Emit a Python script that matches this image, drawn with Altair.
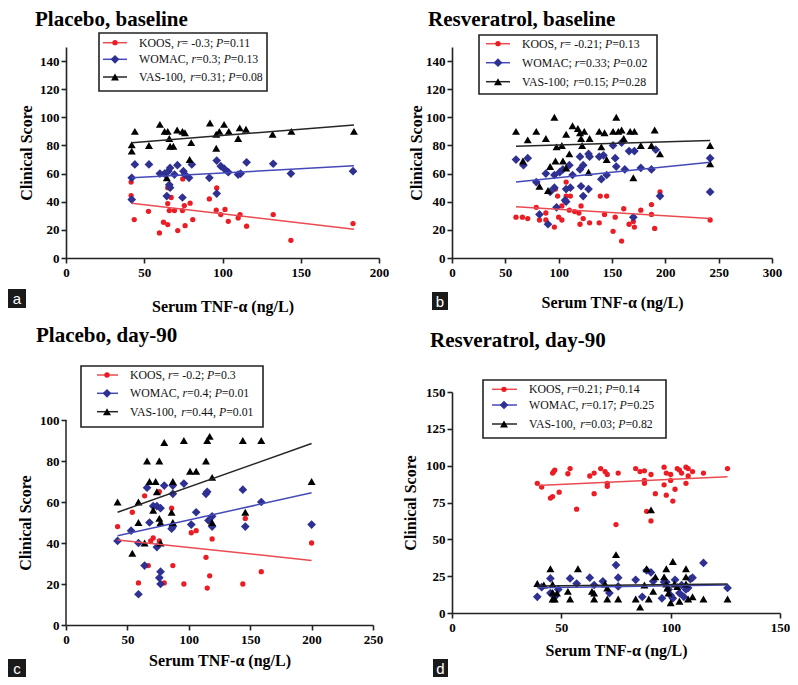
import altair as alt
import pandas as pd

SERIF = "Liberation Serif"
SANS = "Liberation Sans"
SERIES = ["KOOS", "WOMAC", "VAS-100"]
POINT_COLORS = ["#ec1c24", "#2e3192", "#000000"]
LINE_COLORS = ["#ea4b50", "#4449b8", "#262626"]
SHAPES = ["circle", "diamond", "triangle-up"]
SIZES = [28, 76, 64]
X_TITLE = "Serum TNF-α (ng/L)"
Y_TITLE = "Clinical Score"

# ---------------- Panel a: Placebo, baseline ----------------
a_title = "Placebo, baseline"
a_letter = "a"
a_xticks = [0, 50, 100, 150, 200]
a_yticks = [0, 20, 40, 60, 80, 100, 120, 140]
a_legend = ["KOOS, r= -0.3; P=0.11", "WOMAC, r=0.3; P=0.13", "VAS-100, r=0.31; P=0.08"]
a_koos_x = [41.6, 41.6, 43.6, 52.7, 59.7, 62.3, 65, 65, 65, 67.2, 66, 69.3, 71.4, 74.4, 75.6, 74.6,
            76.1, 81, 79.3, 91.6, 96.3, 96, 98.9, 101.6, 103.7, 110, 111.2, 115.4, 132.4, 143.7, 183.4]
a_koos_y = [54, 44.4, 27.3, 33.2, 17.8, 25.4, 23.8, 38.7, 50, 43, 33.7, 33.7, 19.5, 33.7, 37.3, 56.2,
            23, 27.3, 39, 42, 49.8, 34, 30.9, 34.5, 26.1, 28.5, 30.9, 22.6, 30.9, 12.6, 24.5]
a_womac_x = [44, 53, 42, 42, 60, 63, 65.4, 66.5, 66, 66.5, 64.4, 69.3, 71.2, 75, 76, 74.4, 80.4, 78.6,
             91.6, 96.3, 96.3, 98.9, 101, 103.7, 110, 111.6, 115.4, 132.4, 143.7, 183.4]
a_womac_y = [66.5, 66.5, 57, 41.5, 60, 60, 61.7, 64, 52, 50, 44, 59.3, 66, 61.7, 59.3, 43, 66.5, 57,
             57, 69.3, 45.8, 65.3, 63.6, 61, 59.3, 60, 68, 67, 60, 61.7]
a_vas_x = [42, 42, 44, 53, 60, 63, 65, 66, 66.5, 68.6, 71, 74.4, 76, 79, 80, 64.4, 92, 96, 96, 98,
           101, 104, 110, 111, 115, 132, 144, 184]
a_vas_y = [76, 80.5, 90, 80, 95, 90, 90, 85, 79.5, 79.5, 91, 90, 89, 70, 82, 57, 96, 78, 88, 90,
           95, 90, 85, 92.5, 91.5, 88, 90, 90]
a_fit_x = [42, 184]
a_fit_koos = [39, 20.5]
a_fit_womac = [57, 65.5]
a_fit_vas = [82, 94.5]

# ---------------- Panel b: Resveratrol, baseline ----------------
b_title = "Resveratrol, baseline"
b_letter = "b"
b_xticks = [0, 50, 100, 150, 200, 250, 300]
b_yticks = [0, 20, 40, 60, 80, 100, 120, 140]
b_legend = ["KOOS, r= -0.21; P=0.13", "WOMAC; r=0.33; P=0.02", "VAS-100; r=0.15; P=0.28"]
b_koos_x = [60, 66, 71, 79, 82, 88, 88, 96, 97, 99, 100, 103, 103, 107, 107, 111, 110, 115, 119, 120,
            121, 123, 123, 129, 138, 139, 143, 145, 151, 153, 159, 161, 166, 170, 171, 177, 187, 187,
            190, 195, 242]
b_koos_y = [29, 29, 28, 36, 27, 32, 27, 22, 49, 44, 29, 37, 27, 54, 44, 44, 34, 33, 32, 24,
            37, 44, 28, 25, 25, 44, 31, 44, 19, 29, 12, 35, 24, 26, 22, 34, 38, 31,
            21, 47, 27]
b_womac_x = [60, 67, 71, 79, 82, 88, 90, 92, 96, 96, 98, 101, 104, 106, 107, 107, 110, 111, 113, 120,
             120, 121, 123, 123, 128, 129, 128, 138, 140, 142, 145, 151, 153, 154, 159, 162, 166, 171,
             170, 177, 187, 191, 195, 242, 242]
b_womac_y = [70, 66, 71, 54, 31, 60, 24, 47, 50, 59, 36, 61, 63, 41, 40, 49, 66, 50, 59, 72,
             63, 51, 66, 44, 74, 72, 49, 72, 56, 73, 59, 80, 71, 65, 82, 63, 76, 76,
             29, 64, 63, 77, 44, 71, 47]
b_vas_x = [60, 71, 79, 88, 96, 98, 103, 92, 97, 104, 107, 110, 113, 118, 120, 121, 122, 124, 129, 128,
           138, 140, 143, 145, 151, 154, 156, 159, 161, 167, 171, 170, 177, 187, 190, 195, 242, 242,
           82, 90, 107, 66.5]
b_vas_y = [90, 84, 90, 85, 100, 79, 80, 65, 69, 69, 88, 74, 94, 92, 89, 85, 80, 90, 85, 61,
           90, 79, 89, 70, 90, 100, 90, 91, 85, 90, 90, 57, 80, 80, 91, 74, 80, 67,
           51, 48, 64, 69]
b_fit_x = [60, 242]
b_fit_koos = [36.5, 28]
b_fit_womac = [54, 68]
b_fit_vas = [79.5, 83.5]

# ---------------- Panel c: Placebo, day-90 ----------------
c_title = "Placebo, day-90"
c_letter = "c"
c_xticks = [0, 50, 100, 150, 200, 250]
c_yticks = [0, 20, 40, 60, 80, 100]
c_legend = ["KOOS, r= -0.2; P=0.3", "WOMAC, r=0.4; P=0.01", "VAS-100, r=0.44, P=0.01"]
c_koos_x = [42, 54, 59, 64, 67, 69, 71, 76, 76, 80, 86, 87, 96, 102, 106, 114, 115, 117, 119, 144,
            146, 159, 200]
c_koos_y = [48, 55, 20.5, 63, 29, 41, 42.5, 41, 65, 20.5, 57, 29, 20, 45, 46, 33, 18, 24, 42, 20,
            52, 26, 40]
c_womac_x = [42, 53, 59, 59, 64, 66, 68, 71, 74, 74, 77, 77, 76, 77, 80, 86, 87, 87, 87, 96,
             102, 106, 114, 115, 116, 119, 119, 144, 146, 159, 200]
c_womac_y = [41, 46, 40, 15, 29, 67, 50, 58, 58, 38, 57, 26, 23, 20, 68, 47, 64, 68, 48, 69,
             49, 55, 64, 65, 51, 53, 48, 66, 48, 60, 49]
c_vas_x = [42, 54, 59, 59, 64, 66, 68, 71, 73, 74, 76, 76, 77, 77, 80, 86, 87, 87, 96, 101,
           106, 114, 115, 117, 119, 119, 144, 146, 159, 200]
c_vas_y = [60, 35, 60, 50, 40, 80, 70, 56, 70, 65, 80, 52, 50, 40, 89, 55, 70, 50, 90, 75,
           75, 80, 90, 92, 72, 50, 90, 55, 90, 70]
c_fit_x = [42, 200]
c_fit_koos = [41.5, 31.5]
c_fit_womac = [43.5, 64.5]
c_fit_vas = [55, 88.5]

# ---------------- Panel d: Resveratrol, day-90 ----------------
d_title = "Resveratrol, day-90"
d_letter = "d"
d_xticks = [0, 50, 100, 150]
d_yticks = [0, 25, 50, 75, 100, 125, 150]
d_legend = ["KOOS, r=0.21; P=0.14", "WOMAC, r=0.17; P=0.25", "VAS-100, r=0.03; P=0.82"]
d_koos_x = [39, 41, 45, 46, 46, 46.5, 47, 49, 53, 54, 57, 63, 65, 65, 68, 70, 71, 71, 71, 76,
            75, 84, 86, 88, 88, 88, 89, 91, 91, 93, 97, 97, 98, 98, 100, 100, 101, 102, 103, 104,
            105, 107, 107, 108, 108, 110, 115, 126]
d_koos_y = [88, 85.5, 78, 79, 95, 96, 97, 82, 94.5, 98, 70.5, 93, 95, 81, 98, 96, 88, 86, 94, 95,
            60, 98, 96, 96.5, 90, 88, 69, 94, 62.5, 81, 99, 87, 95, 80, 94, 90, 76, 84, 98, 97,
            95, 99, 88, 98, 93, 96, 95, 98]
d_womac_x = [39, 41, 45, 45, 47, 48.6, 54, 57, 63, 65, 69, 72, 75, 76, 76, 84, 87, 89, 91, 92,
             96, 97, 98, 99, 100, 101, 102, 104, 105, 106, 107, 108, 109, 110, 115, 126]
d_womac_y = [11, 17.5, 23.5, 13.5, 11, 16, 23.5, 20, 24, 19, 21.5, 13.5, 32.5, 24, 18, 22.5, 11, 29, 27.5, 21.5,
             10, 21, 21, 16, 12, 10, 22.5, 13.5, 19, 11, 16, 17, 23, 24, 34, 17]
d_vas_x = [39, 42, 45, 46, 46, 46, 47, 48, 53, 54, 57.6, 64, 65, 65, 70, 71, 71, 75, 76, 84,
           86, 88, 89, 91, 90, 92, 93, 97, 98, 98, 99, 100, 101, 101.7, 103, 104, 107, 107, 108, 110,
           115, 126, 107, 98.5]
d_vas_y = [20, 19, 30, 19.5, 14, 9.5, 9.5, 13.5, 14.7, 9.5, 30, 14.7, 9.5, 13.5, 19.7, 9.5, 17, 39.6, 9.5, 9.5,
           4, 19, 30, 70, 9.5, 14.7, 24.5, 24.5, 30, 19.7, 13.5, 7, 35, 19.7, 18, 8, 30, 24.5, 9.5, 11,
           9.5, 9.5, 19.7, 17]
d_fit_x = [39, 126]
d_fit_koos = [86.5, 92.5]
d_fit_womac = [17.2, 19.0]
d_fit_vas = [18.3, 19.6]

# ---------------- layout (pixels relative to each plot's top-left) ----------------
LAYOUT = {
    "a": dict(w=313, h=211, xdom=[0, 200], ydom=[0, 150], xtp=19, ytp=5,
              box=(33, -14, 201, 44), rows=(-4.3, 12.3, 30), sym=(37, 61, 49), tx=73,
              title=(-31, -21.4), letter=(-58, 242, -40, 261)),
    "b": dict(w=320, h=211, xdom=[0, 300], ydom=[0, 150], xtp=15, ytp=1,
              box=(27, -12, 205, 47), rows=(-3.3, 15.7, 34.7), sym=(34, 58, 46), tx=70,
              title=(-24, -21.4), letter=(-20, 245, -4, 263)),
    "c": dict(w=307, h=233, xdom=[0, 250], ydom=[0, 113.66], xtp=6, ytp=6,
              box=(15, -26, 197, 35), rows=(-17, 1.3, 19.7), sym=(31, 52, 41), tx=64,
              title=(-30, -50), letter=(-58, 267, -40, 285), axis_top=100, titleY=130.5),
    "d": dict(w=328, h=221, xdom=[0, 150], ydom=[0, 150], xtp=8, ytp=7,
              box=(31, -12, 214, 46), rows=(-2.7, 13, 32), sym=(40, 65, 52), tx=77,
              title=(-22, -45.3), letter=(-19, 267, -4, 285)),
}

ROMAN = {" ": 250, ",": 250, ";": 278, ".": 250, "-": 333, "=": 564, "K": 722, "O": 722, "S": 556,
         "W": 944, "M": 889, "A": 722, "C": 667, "V": 722, "r": 333, "P": 556}
ITALIC = {"r": 389, "P": 611}
LEG_SIZE = 11.8

DUMMY = pd.DataFrame({"k": [0]})


def text_w(s, italic):
    table = ITALIC if italic else ROMAN
    return sum(table.get(ch, 500) for ch in s) * LEG_SIZE / 1000.0


def segments(label):
    i_r = label.index("r=")
    i_p = label.index("P=")
    return [(label[:i_r], False), ("r", True), (label[i_r + 1:i_p], False),
            ("P", True), (label[i_p + 1:], False)]


def panel(key, title, letter, xs, ys, fit_x, fits, legend, xticks, yticks):
    L = LAYOUT[key]
    xscale = alt.Scale(domain=L["xdom"], nice=False, zero=False)
    yscale = alt.Scale(domain=L["ydom"], nice=False, zero=False)
    xaxis = alt.Axis(values=xticks, title=X_TITLE, titlePadding=L["xtp"], format="d")
    ykw = dict(values=yticks, title=Y_TITLE, titlePadding=L["ytp"], format="d")
    if "axis_top" in L:
        ykw["domain"] = False
        ykw["titleY"] = L["titleY"]
    yaxis = alt.Axis(**ykw)
    X = alt.X("x:Q", scale=xscale, axis=xaxis)
    Y = alt.Y("y:Q", scale=yscale, axis=yaxis)

    layers = []
    if "axis_top" in L:
        ax = pd.DataFrame({"x": [L["xdom"][0]], "y": [0], "y2": [L["axis_top"]]})
        layers.append(alt.Chart(ax).mark_rule(color="#222", strokeWidth=1.5)
                      .encode(x=X, y=Y, y2="y2:Q"))
    for i in range(3):
        df = pd.DataFrame({"x": xs[i], "y": ys[i]})
        layers.append(alt.Chart(df).mark_point(filled=True, shape=SHAPES[i], size=SIZES[i],
                                               color=POINT_COLORS[i], opacity=1)
                      .encode(x=X, y=Y))
    for i in range(3):
        df = pd.DataFrame({"x": fit_x, "y": fits[i]})
        layers.append(alt.Chart(df).mark_line(color=LINE_COLORS[i], strokeWidth=1.5)
                      .encode(x=X, y=Y))

    # legend box
    bx1, by1, bx2, by2 = L["box"]
    layers.append(alt.Chart(DUMMY).mark_rect(fill="white", stroke="#222", strokeWidth=1.6)
                  .encode(x=alt.value(bx1), x2=alt.value(bx2), y=alt.value(by1), y2=alt.value(by2)))
    sx1, sx2, sm = L["sym"]
    for i in range(3):
        ry = L["rows"][i]
        layers.append(alt.Chart(DUMMY).mark_rule(color=LINE_COLORS[i], strokeWidth=1.5)
                      .encode(x=alt.value(sx1), x2=alt.value(sx2), y=alt.value(ry)))
        layers.append(alt.Chart(DUMMY).mark_point(filled=True, shape=SHAPES[i], size=SIZES[i],
                                                  color=POINT_COLORS[i], opacity=1)
                      .encode(x=alt.value(sm), y=alt.value(ry)))
        px = L["tx"]
        for seg, it in segments(legend[i]):
            if seg.strip():
                layers.append(alt.Chart(DUMMY).mark_text(
                    text=seg, align="left", baseline="middle", font=SERIF, fontSize=LEG_SIZE,
                    fontStyle="italic" if it else "normal", color="#111")
                    .encode(x=alt.value(px), y=alt.value(ry)))
            px += text_w(seg, it)

    # panel title
    tx, ty = L["title"]
    layers.append(alt.Chart(DUMMY).mark_text(
        text=title, align="left", baseline="alphabetic", font=SERIF, fontSize=21,
        fontWeight="bold", color="#000").encode(x=alt.value(tx), y=alt.value(ty)))
    # panel letter
    lx1, ly1, lx2, ly2 = L["letter"]
    layers.append(alt.Chart(DUMMY).mark_rect(color="#1a1a1a")
                  .encode(x=alt.value(lx1), x2=alt.value(lx2), y=alt.value(ly1), y2=alt.value(ly2)))
    layers.append(alt.Chart(DUMMY).mark_text(
        text=letter, align="center", baseline="middle", font=SANS, fontSize=15, color="white")
        .encode(x=alt.value((lx1 + lx2) / 2), y=alt.value((ly1 + ly2) / 2 + 0.5)))

    return alt.layer(*layers).properties(width=L["w"], height=L["h"])


pa = panel("a", a_title, a_letter, [a_koos_x, a_womac_x, a_vas_x], [a_koos_y, a_womac_y, a_vas_y],
           a_fit_x, [a_fit_koos, a_fit_womac, a_fit_vas], a_legend, a_xticks, a_yticks)
pb = panel("b", b_title, b_letter, [b_koos_x, b_womac_x, b_vas_x], [b_koos_y, b_womac_y, b_vas_y],
           b_fit_x, [b_fit_koos, b_fit_womac, b_fit_vas], b_legend, b_xticks, b_yticks)
pc = panel("c", c_title, c_letter, [c_koos_x, c_womac_x, c_vas_x], [c_koos_y, c_womac_y, c_vas_y],
           c_fit_x, [c_fit_koos, c_fit_womac, c_fit_vas], c_legend, c_xticks, c_yticks)
pd_ = panel("d", d_title, d_letter, [d_koos_x, d_womac_x, d_vas_x], [d_koos_y, d_womac_y, d_vas_y],
            d_fit_x, [d_fit_koos, d_fit_womac, d_fit_vas], d_legend, d_xticks, d_yticks)

chart = alt.concat(pa, pb, pc, pd_, columns=2, spacing={"row": 11, "column": 13},
                   align="each", bounds="full").properties(
    padding=0, background="white"
).configure_view(stroke=None).configure_axis(
    grid=False, domainColor="#222", domainWidth=1.6, tickColor="#222", tickWidth=1.6, tickSize=5,
    labelFont=SERIF, labelFontSize=13, labelFontWeight="bold", labelColor="#000",
    labelFlush=False, labelOverlap=False,
    titleFont=SERIF, titleFontSize=16, titleFontWeight="bold", titleColor="#000",
).configure_axisX(labelPadding=3).configure_axisY(labelPadding=2)

chart.save("out.html", embed_options={"renderer": "svg", "actions": False})
